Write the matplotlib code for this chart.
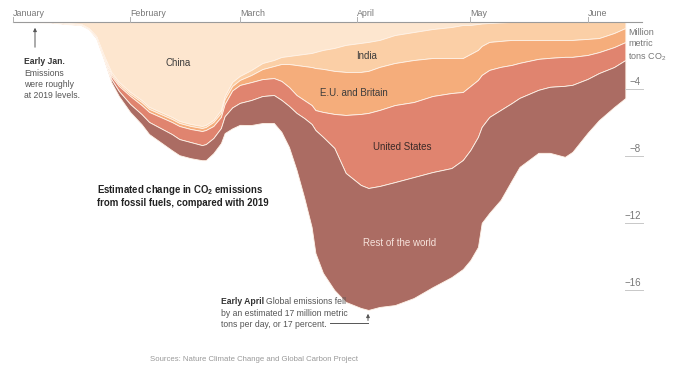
import matplotlib
matplotlib.use("Agg")
import matplotlib.pyplot as plt
import numpy as np

plt.rcParams['font.family'] = ['Liberation Sans', 'DejaVu Sans']
plt.rcParams['mathtext.fontset'] = 'custom'
plt.rcParams['mathtext.rm'] = 'Liberation Sans'
plt.rcParams['mathtext.bf'] = 'Liberation Sans:bold'
plt.rcParams['mathtext.default'] = 'regular'

# ---- data (day of year 2020, million metric tons CO2 per day reduction) ----
days = [0, 10, 14, 18, 20, 22, 24, 26, 28, 31, 34, 36, 39, 42, 44, 47, 50, 51, 53, 55,
        56, 58, 60, 63, 66, 69, 71, 73, 75, 77, 79, 80, 82, 85, 88, 92, 94, 97, 101, 106,
        111, 116, 119, 121, 123, 124, 126, 129, 132, 134, 139, 142, 146, 148, 152, 155, 159, 162]

china = [0, 0, 0.06, 0.12, 0.36, 0.84, 1.97, 2.99, 3.58, 4.18,
         4.66, 5.07, 5.37, 5.67, 5.91, 6.09, 6.21, 6.15, 5.85, 5.25,
         4.42, 3.58, 3.22, 2.87, 2.45, 2.27, 2.09, 2.03, 1.97, 1.91,
         1.85, 1.79, 1.67, 1.55, 1.37, 1.25, 1.19, 1.07, 0.78, 0.60,
         0.42, 0.30, 0.18, 0.18, 0.12, 0.09, 0.06, 0.03, 0, 0,
         0, 0, 0, 0, 0, 0, 0, 0]

india = [0, 0, 0.02, 0.02, 0.02, 0.02, 0.06, 0.12, 0.12, 0.12,
         0.12, 0.12, 0.12, 0.12, 0.12, 0.12, 0.12, 0.12, 0.12, 0.18,
         0.18, 0.24, 0.24, 0.30, 0.36, 0.36, 0.42, 0.48, 0.60, 0.72,
         0.84, 0.96, 1.13, 1.37, 1.61, 1.73, 1.73, 1.61, 1.67, 1.67,
         1.73, 1.85, 1.97, 1.73, 1.55, 1.34, 1.13, 1.10, 1.07, 1.07,
         1.07, 1.07, 1.07, 1.07, 1.01, 0.96, 0.66, 0.36]

eu_britain = [0, 0, 0.01, 0.02, 0.02, 0.02, 0.06, 0.12, 0.12, 0.12,
              0.18, 0.18, 0.18, 0.18, 0.18, 0.18, 0.18, 0.18, 0.24, 0.24,
              0.30, 0.27, 0.30, 0.42, 0.60, 0.72, 1.01, 1.37, 1.79, 2.03,
              2.27, 2.51, 2.57, 2.57, 2.57, 2.51, 2.51, 2.57, 2.51, 2.51,
              2.27, 2.09, 2.03, 1.91, 1.79, 1.73, 1.67, 1.55, 1.49, 1.37,
              1.13, 1.07, 1.01, 1.01, 0.96, 0.84, 0.84, 0.84]

united_states = [0, 0, 0.01, 0.01, 0.01, 0.02, 0.06, 0.18, 0.30, 0.48,
                 0.54, 0.60, 0.66, 0.72, 0.78, 0.78, 0.84, 0.84, 0.72, 0.66,
                 0.72, 1.01, 1.07, 1.07, 1.01, 1.01, 1.13, 1.13, 1.07, 1.07,
                 1.13, 1.19, 1.49, 2.03, 3.46, 4.24, 4.48, 4.54, 4.60, 4.48,
                 4.54, 4.48, 4.06, 3.82, 3.40, 3.10, 2.81, 2.57, 2.27, 2.09,
                 1.85, 1.73, 1.73, 1.67, 1.43, 1.25, 1.19, 1.07]

rest_of_world = [0, 0.03, 0.02, 0.01, 0.01, 0.06, 0.06, 0.18, 0.30, 0.48,
                 0.60, 0.72, 0.84, 0.96, 0.96, 0.96, 0.90, 0.96, 0.90, 0.90,
                 1.01, 1.25, 1.31, 1.49, 1.61, 1.67, 1.91, 2.45, 3.40, 4.72,
                 6.15, 7.34, 8.12, 8.48, 7.70, 7.34, 7.28, 7.22, 7.34, 7.22,
                 6.87, 6.51, 6.51, 6.57, 6.57, 5.73, 5.73, 5.37, 4.60, 4.12,
                 3.76, 3.94, 4.24, 4.00, 3.22, 2.81, 2.39, 2.27]

series_labels = ["China", "India", "E.U. and Britain", "United States", "Rest of the world"]
colors = ["#fde6cf", "#fbcfa6", "#f5ad7b", "#e0846f", "#ab6c63"]

month_days = [0, 31, 60, 91, 121, 152]
month_labels = ["January", "February", "March", "April", "May", "June"]
ytick_vals = [-4, -8, -12, -16]
ytick_labels = ["\u22124", "\u22128", "\u221212", "\u221216"]

# ---- figure ----
W, H = 680, 368
fig = plt.figure(figsize=(W / 100, H / 100), dpi=100)
ax = fig.add_axes([0, 0, 1, 1])
PXD = 3.78     # pixels per day
PXV = 16.75    # pixels per million tons
X0, Y0 = 13, 22


def dx(px):
    return (px - X0) / PXD


def dy(py):
    return -(py - Y0) / PXV


ax.set_xlim(dx(0), dx(W))
ax.set_ylim(dy(H), dy(0))
ax.axis('off')

neg = [-np.array(s) for s in (china, india, eu_britain, united_states, rest_of_world)]
ax.stackplot(days, *neg, colors=colors, edgecolor="#fff3e8", linewidth=0.6, zorder=2)

# baseline
ax.plot([0, dx(642)], [0, 0], color="#9a9a9a", lw=0.8, zorder=3)

# month ticks
for d, lab in zip(month_days, month_labels):
    ax.plot([d, d], [0, dy(17)], color="#b0b0b0", lw=0.7, zorder=3)
    ax.text(d, dy(16), lab, fontsize=6.4, color="#777777", ha='left', va='baseline')

# y ticks on right
for v, lab in zip(ytick_vals, ytick_labels):
    ax.plot([dx(625), dx(643)], [v, v], color="#c8c8c8", lw=0.7)
    ax.text(dx(641), v + 0.12, lab, fontsize=7, color="#777777", ha='right', va='bottom')

ax.text(dx(628), dy(28), "Million\nmetric\ntons CO$_2$", fontsize=6.5, color="#777777",
        ha='left', va='top', linespacing=1.35)

# layer labels
ax.text(dx(178), dy(66), series_labels[0], fontsize=7, color="#3c3c3c", ha='center', va='baseline')
ax.text(dx(367), dy(59), series_labels[1], fontsize=7, color="#3c3c3c", ha='center', va='baseline')
ax.text(dx(354), dy(96), series_labels[2], fontsize=7, color="#3c3c3c", ha='center', va='baseline')
ax.text(dx(402), dy(150), series_labels[3], fontsize=7, color="#3a2a28", ha='center', va='baseline')
ax.text(dx(400), dy(246), series_labels[4], fontsize=7, color="#f7e3dc", ha='center', va='baseline')

# title annotation
ax.text(dx(97), dy(193), "Estimated change in CO$_2$ emissions",
        fontsize=6.9, fontweight='bold', color="#222222", ha='left', va='baseline')
ax.text(dx(97), dy(206), "from fossil fuels, compared with 2019",
        fontsize=6.9, fontweight='bold', color="#222222", ha='left', va='baseline')

# Early Jan annotation
ax.annotate("", xy=(dx(35), dy(25)), xytext=(dx(35), dy(50)),
            arrowprops=dict(arrowstyle='-|>', color="#555555", lw=0.7, mutation_scale=5))
ax.text(dx(24), dy(64), "Early Jan.", fontsize=6.2, fontweight='bold', color="#333333", va='baseline')
ax.text(dx(24), dy(76), "Emissions", fontsize=6.2, color="#555555", va='baseline')
ax.text(dx(24), dy(87), "were roughly", fontsize=6.2, color="#555555", va='baseline')
ax.text(dx(24), dy(98), "at 2019 levels.", fontsize=6.2, color="#555555", va='baseline')

# Early April annotation
t1 = ax.text(dx(221), dy(304), "Early April", fontsize=6.2, fontweight='bold', color="#333333", va='baseline')
fig.canvas.draw()
bb = t1.get_window_extent()
ax.text(dx(bb.x1 + 2), dy(304), "Global emissions fell", fontsize=6.2, color="#555555", va='baseline')
ax.text(dx(221), dy(316), "by an estimated 17 million metric", fontsize=6.2, color="#555555", va='baseline')
ax.text(dx(221), dy(327), "tons per day, or 17 percent.", fontsize=6.2, color="#555555", va='baseline')
ax.plot([dx(330), dx(368)], [dy(323), dy(323)], color="#555555", lw=0.7)
ax.annotate("", xy=(dx(368), dy(311)), xytext=(dx(368), dy(323.3)),
            arrowprops=dict(arrowstyle='-|>', color="#555555", lw=0.7, mutation_scale=5))

# source
ax.text(dx(150), dy(361), "Sources: Nature Climate Change and Global Carbon Project",
        fontsize=5.6, color="#999999", va='baseline')

fig.savefig("out.png", dpi=100)
